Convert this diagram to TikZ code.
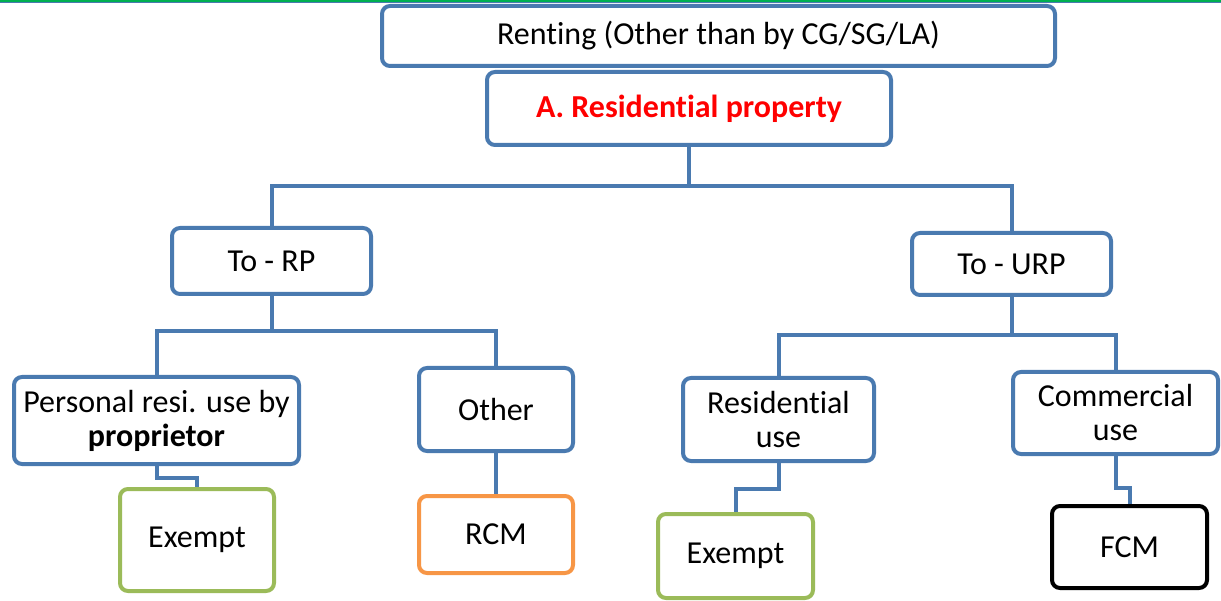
\documentclass[tikz,border=0pt]{standalone}
\usepackage{fontspec}
\setmainfont[Ligatures=NoCommon]{Carlito}
\definecolor{boxblue}{HTML}{4A7AB0}
\definecolor{okgreen}{HTML}{9BBB59}
\definecolor{rcmorange}{HTML}{F79646}
\definecolor{topgreen}{HTML}{00B050}

\begin{document}
\begin{tikzpicture}[x=1pt,y=-1pt,
        box/.style={draw=boxblue, line width=4pt, rounded corners=8pt, fill=white,
            align=center, inner sep=0pt, font=\fontsize{32}{34}\selectfont},
        link/.style={draw=boxblue, line width=4pt}]
        \useasboundingbox (0,0) rectangle (1221,601);

        % Faixa do topo
        \fill[topgreen] (0,0) rectangle (1221,2);
        \draw[boxblue, line width=1pt] (0,2.5) -- (1221,2.5);

        % Caixas principais
        \node[box, minimum width=673pt, minimum height=60pt] (renting) at (718.5,36) {Renting (Other than by CG/SG/LA)};
        \node[box, minimum width=404pt, minimum height=73pt, text=red, font=\fontsize{32}{34}\selectfont\bfseries] (resprop) at (689,108.5) {A. Residential property};

        % Segundo nivel
        \node[box, minimum width=199pt, minimum height=66pt] (torp) at (271.5,261) {To - RP};
        \node[box, minimum width=199pt, minimum height=62pt] (tourp) at (1011.5,264) {To - URP};

        % Terceiro nivel
        \node[box, minimum width=285pt, minimum height=87pt] (personal) at (156.5,420.5) {Personal resi. use by\\\textbf{proprietor}};
        \node[box, minimum width=154pt, minimum height=83pt] (other) at (496,409.5) {Other};
        \node[box, minimum width=191pt, minimum height=83pt] (resuse) at (778.5,419.5) {Residential\\use};
        \node[box, minimum width=205pt, minimum height=82pt] (comuse) at (1115.5,413) {Commercial\\use};

        % Resultados
        \node[box, draw=okgreen, minimum width=154pt, minimum height=102pt] (exempta) at (197,540) {Exempt};
        \node[box, draw=rcmorange, minimum width=154pt, minimum height=77pt] (rcm) at (496,534.5) {RCM};
        \node[box, draw=okgreen, minimum width=155pt, minimum height=84pt] (exemptb) at (735.5,556) {Exempt};
        \node[box, draw=black, minimum width=155pt, minimum height=82pt] (fcm) at (1129.5,547) {FCM};

        % Ligacoes
        \draw[link] (resprop.south) -- ++(0,39) -| (torp.north);
        \draw[link] (resprop.south) -- ++(0,39) -| (tourp.north);
        \draw[link] (torp.south) -- ++(0,35) -| (personal.north);
        \draw[link] (torp.south) -- ++(0,35) -| (other.north);
        \draw[link] (tourp.south) -- ++(0,38) -| (resuse.north);
        \draw[link] (tourp.south) -- ++(0,38) -| (comuse.north);
        \draw[link] (personal.south) -- ++(0,12) -| (exempta.north);
        \draw[link] (other.south) -- (rcm.north);
        \draw[link] (resuse.south) -- ++(0,26) -| (exemptb.north);
        \draw[link] (comuse.south) -- ++(0,32) -| (fcm.north);
\end{tikzpicture}
\end{document}
